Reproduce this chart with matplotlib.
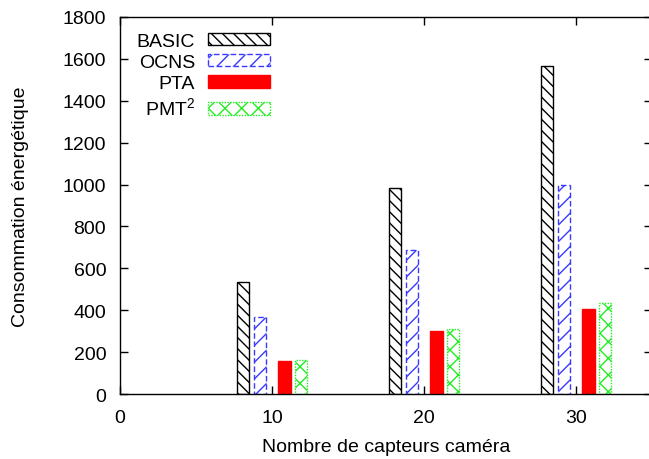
import matplotlib
matplotlib.use("Agg")
import matplotlib.pyplot as plt
from matplotlib.patches import Patch
import numpy as np

plt.rcParams['font.family'] = 'Liberation Sans'
plt.rcParams['mathtext.fontset'] = 'custom'
plt.rcParams['mathtext.rm'] = 'Liberation Sans'
plt.rcParams['hatch.linewidth'] = 1.0

# data
cameras = [10, 20, 30]
basic = [535, 985, 1568]
ocns = [370, 688, 1000]
pta = [160, 300, 405]
pmt2 = [165, 312, 437]

series = ['BASIC', 'OCNS', 'PTA', r'PMT$^{\mathrm{2}}$']
values = [basic, ocns, pta, pmt2]
offsets = [-1.9, -0.82, 0.82, 1.9]
styles = [
    dict(facecolor='white', edgecolor='black', hatch='\\\\\\', linestyle='-'),
    dict(facecolor='white', edgecolor='#3a3aff', hatch='//', linestyle=(0, (4, 2))),
    dict(facecolor='#ff0000', edgecolor='#ff0000', hatch=None, linestyle='-'),
    dict(facecolor='white', edgecolor='#22ee22', hatch='xx', linestyle=(0, (1, 1))),
]

fs = 14
fig = plt.figure(figsize=(6.49, 4.6), dpi=100)
ax = fig.add_axes((0.185, 0.141, 0.8197, 0.820))  # (left, bottom, width, height)

x = np.array(cameras, dtype=float)
handles = []
for name, vals, off, st in zip(series, values, offsets, styles):
    ax.bar(x + off, vals, width=0.8, linewidth=1.0, **st)
    handles.append(Patch(label=name, linewidth=1.0, **st))

ax.set_xlim(0, 35)
ax.set_ylim(0, 1800)
ax.set_xticks([0, 10, 20, 30])
ax.set_yticks(range(0, 1801, 200))
ax.tick_params(direction='in', top=True, right=True, length=6, width=1.0,
               labelsize=fs)
ax.tick_params(axis='y', pad=10)
ax.tick_params(axis='x', pad=11)
for spine in ax.spines.values():
    spine.set_linewidth(1.0)

ax.set_xlabel('Nombre de capteurs caméra', fontsize=fs, labelpad=8)
ax.set_ylabel('Consommation énergétique', fontsize=fs, labelpad=24)

ax.legend(handles=handles, loc='upper left', bbox_to_anchor=(0.031, 0.958),
          markerfirst=False, frameon=False, fontsize=fs, borderaxespad=0,
          borderpad=0, handlelength=3.2, handleheight=0.6, handletextpad=0.65,
          labelspacing=0.22)

fig.savefig('out.png', dpi=100)
